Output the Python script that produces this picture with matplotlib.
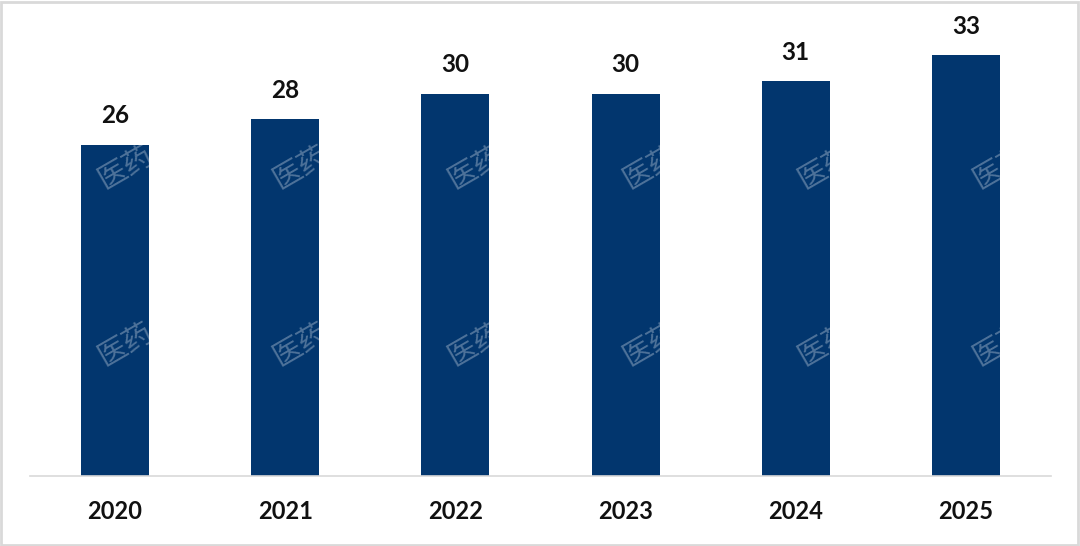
import matplotlib
matplotlib.use("Agg")
import matplotlib.pyplot as plt
from matplotlib.patches import Rectangle

years = ["2020", "2021", "2022", "2023", "2024", "2025"]
values = [26, 28, 30, 30, 31, 33]

W, H = 1080, 546
fig = plt.figure(figsize=(W / 100, H / 100), dpi=100)
fig.patch.set_facecolor("white")

ax_left, ax_right = 30 / W, 1051 / W
ax_bottom, ax_top = (H - 476) / H, (H - 17) / H
ax = fig.add_axes([ax_left, ax_bottom, ax_right - ax_left, ax_top - ax_bottom])

x = list(range(len(years)))
bars = ax.bar(x, values, width=0.4, color="#02366e", zorder=2)
ax.set_xlim(-0.5, 5.5)
ax.set_ylim(0, 36)

for xi, v in zip(x, values):
    ax.text(xi, v + 1.35, f"{v}", ha="center", va="bottom",
            fontsize=17.5, fontweight="bold", family=["Lato", "DejaVu Sans"], color="#111111")

ax.set_xticks(x)
ax.set_xticklabels(years, fontsize=17, fontweight="bold", family=["Lato", "DejaVu Sans"], color="#111111")
ax.tick_params(axis="x", length=0, pad=17)
ax.set_yticks([])
for s in ["top", "right", "left"]:
    ax.spines[s].set_visible(False)
ax.spines["bottom"].set_color("#d9d9d9")
ax.spines["bottom"].set_linewidth(1.2)

# faint watermark (white, visible only over bars)
for cx in [93, 268, 443, 618, 793, 968]:
    for cy in [168, 345]:
        fig.text(cx / W, 1 - cy / H, "医药", rotation=30, fontsize=21,
                 family=["Noto Sans CJK SC", "DejaVu Sans"], color="white", alpha=0.3,
                 ha="left", va="center", zorder=5)

# light border around figure
fig.add_artist(Rectangle((0.001, 0.002), 0.997, 0.995, transform=fig.transFigure,
                         fill=False, edgecolor="#d9d9d9", linewidth=2))

fig.savefig("out.png", dpi=100, facecolor="white")
